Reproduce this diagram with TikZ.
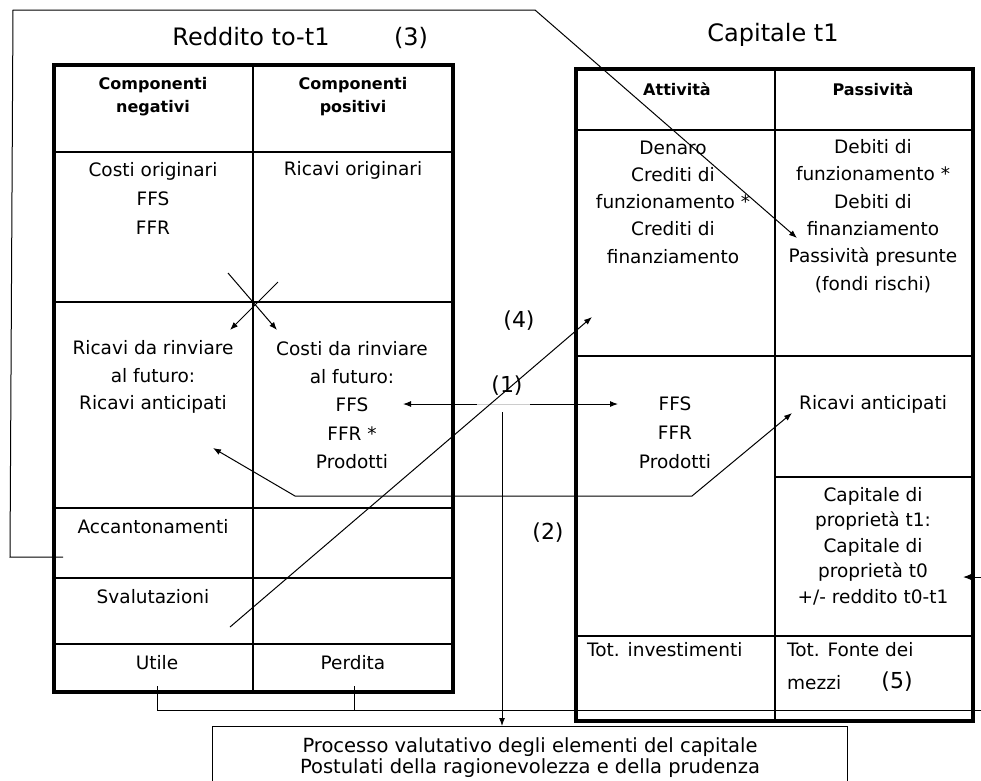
\documentclass[tikz,border=0pt]{standalone}
\usepackage{fontspec}
\setmainfont{DejaVu Sans}
\usetikzlibrary{arrows.meta}
\begin{document}
\begin{tikzpicture}[x=1pt,y=-1pt,
  outer/.style={line width=3.4pt},
  inner/.style={line width=1.5pt},
  conn/.style={line width=1pt},
  tip/.tip={Latex[length=8pt,width=6pt]},
  arr/.style={conn,-tip},
  body/.style={font=\fontsize{18.5}{28}\selectfont, align=center, inner sep=0pt},
  hdr/.style={font=\bfseries\fontsize{16}{23}\selectfont, align=center, inner sep=0pt},
  ttl/.style={font=\fontsize{24}{28}\selectfont, inner sep=0pt},
  num/.style={font=\fontsize{22}{26}\selectfont, inner sep=0pt},
]
\useasboundingbox (0,0) rectangle (981,780);
\fill[white] (0,0) rectangle (981,780);
\clip (0,0) rectangle (981,780);

% ---------- titles ----------
\node[ttl] (t1) at (251,37) {Reddito to-t1};
\node[ttl] (t3) at (411,38) {(3)};
\node[ttl] (t2) at (773,35) {Capitale t1};

% ---------- left table (Reddito) ----------
\draw[inner] (253,65) -- (253,692);
\foreach \yy in {152,302,508,578,644} \draw[inner] (54,\yy) -- (453,\yy);
\draw[outer] (54,65) rectangle (453,692);

\node[hdr] (hneg) at (153,97) {Componenti\\negativi};
\node[hdr] (hpos) at (353,97) {Componenti\\positivi};
\node[body, font=\fontsize{18.5}{29}\selectfont] (costi) at (153,198) {Costi originari\\FFS\\FFR};
\node[body] (ricor) at (353,170) {Ricavi originari};
\node[body, font=\fontsize{18.5}{27.5}\selectfont] (ricrinv) at (153,377) {Ricavi da rinviare\\al futuro:\\Ricavi anticipati};
\node[body, font=\fontsize{18.5}{28.2}\selectfont] (costrinv) at (352,405) {Costi da rinviare\\al futuro:\\FFS\\FFR *\\Prodotti};
\node[body] (accant) at (153,527) {Accantonamenti};
\node[body] (svalut) at (153,597) {Svalutazioni};
\node[body] (utile) at (157,663) {Utile};
\node[body] (perdita) at (353,663) {Perdita};

% ---------- right table (Capitale) ----------
\draw[inner] (775,69) -- (775,721);
\draw[inner] (576,130) -- (973,130);
\draw[inner] (576,356) -- (973,356);
\draw[inner] (775,477) -- (973,477);
\draw[inner] (576,636) -- (973,636);
\draw[outer] (576,69) rectangle (973,721);

\node[hdr] (hatt) at (677,89) {Attività};
\node[hdr] (hpas) at (873,89) {Passività};
\node[body, font=\fontsize{18.5}{27.3}\selectfont] (attiv) at (673,202) {Denaro\\Crediti di\\funzionamento *\\Crediti di\\finanziamento};
\node[body, font=\fontsize{18.5}{27.4}\selectfont] (passiv) at (873,216) {Debiti di\\funzionamento *\\Debiti di\\finanziamento\\Passività presunte\\(fondi rischi)};
\node[body, font=\fontsize{18.5}{29}\selectfont] (ffs) at (675,433) {FFS\\FFR\\Prodotti};
\node[body] (ricant) at (873,404) {Ricavi anticipati};
\node[body, font=\fontsize{18.5}{25.5}\selectfont] (capprop) at (873,546) {Capitale di\\proprietà t1:\\Capitale di\\proprietà t0\\+/- reddito t0-t1};
\node[body, anchor=west] (totinv) at (587,650) {Tot. investimenti};
\node[body, anchor=west] (totfon) at (787,650) {Tot. Fonte dei};
\node[body, anchor=west] (mezzi) at (787,683) {mezzi};
\node[num] (n5) at (897,682) {(5)};

% ---------- numbered labels ----------
\node[num] (n4) at (519,321) {(4)};
\node[num] (n1) at (507,386) {(1)};
\node[num] (n2) at (548,533) {(2)};

% ---------- bottom box ----------
\draw[conn] (212,800) -- (212,726) -- (847,726) -- (847,800);
\node[font=\fontsize{19.5}{21}\selectfont, align=center, inner sep=0pt] (proc) at (530,758)
  {Processo valutativo degli elementi del capitale\\Postulati della ragionevolezza e della prudenza};
\coordinate (boxtop) at (502,726);

% ---------- connectors ----------
% outer frame line with diagonal arrow (3)
\coordinate (fa) at (63,557);
\coordinate (fb) at (10,557);
\coordinate (fc) at (13,10);
\coordinate (fd) at (535,10);
\coordinate (fe) at (797,238);
\draw[conn] (fa) -- (fb) -- (fc) -- (fd);
\draw[arr] (fd) -- (fe);

% crossing arrows
\coordinate (xa) at (228,273);
\coordinate (xb) at (277,330);
\coordinate (xc) at (278,282);
\coordinate (xd) at (230,330);
\draw[arr] (xa) -- (xb);
\draw[arr] (xc) -- (xd);

% (1) arrows
\coordinate (oa) at (477,404);
\coordinate (ob) at (403,404);
\coordinate (oc) at (530,404);
\coordinate (od) at (618,404);
\draw[arr] (oa) -- (ob);
\draw[arr] (oc) -- (od);
\draw[line width=0.8pt, black!20] (oa) -- (oc);

% (2) arrow
\coordinate (ta) at (502,412);
\draw[arr] (ta) -- (boxtop);

% (4) arrow
\coordinate (qa) at (230,627);
\coordinate (qb) at (592,317);
\draw[arr] (qa) -- (qb);

% ricavi anticipati double arrow
\coordinate (ra) at (213,448);
\coordinate (rb) at (295,496);
\coordinate (rc) at (692,496);
\coordinate (rd) at (792,413);
\draw[conn, tip-tip] (ra) -- (rb) -- (rc) -- (rd);

% utile / perdita connector
\coordinate (ua) at (157,686);
\coordinate (ub) at (157,710);
\coordinate (pa) at (354,686);
\coordinate (pb) at (354,710);
\coordinate (le) at (981,710);
\draw[conn] (ua) -- (ub) -- (le);
\draw[conn] (pa) -- (pb);
\coordinate (ca) at (981,577);
\coordinate (cb) at (963,577);
\draw[arr] (ca) -- (cb);
\end{tikzpicture}
\end{document}
